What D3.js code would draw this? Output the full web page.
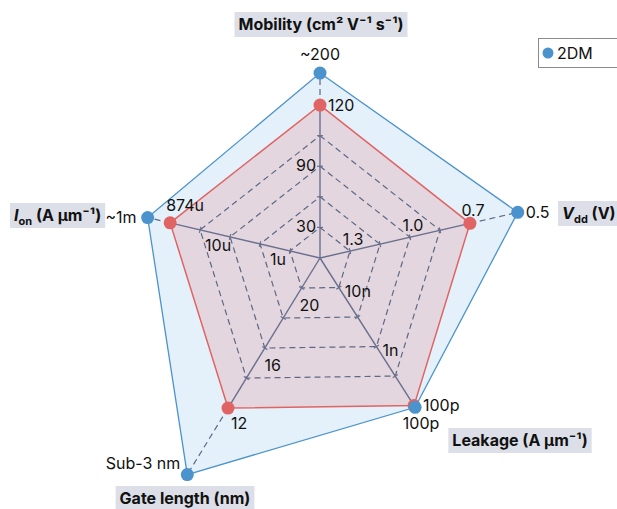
<!DOCTYPE html>
<html>
<head>
<meta charset="utf-8">
<script src="https://cdn.jsdelivr.net/npm/d3@7"></script>
<style>
  body { margin: 0; background: #fff; }
  text { font-family: Inter, "Liberation Sans", sans-serif; fill: #111; }
</style>
</head>
<body>
<div id="chart"></div>
<script>
// ---- data ----
const axes = ["Mobility", "Vdd", "Leakage", "Gate length", "Ion"];
// relative radial score (0-100) for each axis
const values2DM = [72.8, 79.9, 69.7, 100, 69.7];
const valuesSi = [60.2, 60.6, 68.9, 69.3, 60.6];
const labels2DM = ["~200", "0.5", "100p", "Sub-3 nm", "~1m"];
const labelsSi = ["120", "0.7", "100p", "12", "874u"];
const tickLabels = [["30", "90"], ["1.3", "1.0"], ["10n", "1n"], ["20", "16"], ["1u", "10u"]];
const tickRings = [[0.2, 0.6], [0.2, 0.6], [0.2, 0.6], [0.3, 0.7], [0.2, 0.6]];
const ringLevels = [0.2, 0.4, 0.6, 0.8];

// ---- layout ----
const width = 617, height = 509;
const cx = 320, cy = 258;
const angles = [-90, -13, 57.5, 121.5, 193.2];
const blue = "#4b93cc", red = "#e06464", axisCol = "#6a6f8e", gridCol = "#5d6886";
const fs = 16;

const svg = d3.select("#chart").append("svg")
    .attr("width", width)
    .attr("height", height);

const r = d3.scaleLinear().domain([0, 100]).range([0, 254]);

function pt(i, v) {
    let a = angles[i] * Math.PI / 180;
    return [cx + r(v) * Math.cos(a), cy + r(v) * Math.sin(a)];
}

const line = d3.line().curve(d3.curveLinearClosed);

// polygons
svg.append("path")
    .attr("d", line(values2DM.map((v, i) => pt(i, v))))
    .attr("fill", "#e4f1fa")
    .attr("stroke", blue)
    .attr("stroke-width", 1.3);

svg.append("path")
    .attr("d", line(valuesSi.map((v, i) => pt(i, v))))
    .attr("fill", "#e3d6de")
    .attr("stroke", red)
    .attr("stroke-width", 1.5);

// grid rings (scaled copies of the red polygon)
svg.selectAll(".ring")
    .data(ringLevels)
    .enter()
    .append("path")
    .attr("class", "ring")
    .attr("d", k => line(valuesSi.map((v, i) => pt(i, v * k))))
    .attr("fill", "none")
    .attr("stroke", gridCol)
    .attr("stroke-width", 1.2)
    .attr("stroke-dasharray", "6,4");

// axis lines + dashed extension
axes.forEach((a, i) => {
    let p0 = [cx, cy], p1 = pt(i, valuesSi[i]), p2 = pt(i, values2DM[i]);
    svg.append("line")
        .attr("x1", p0[0]).attr("y1", p0[1])
        .attr("x2", p1[0]).attr("y2", p1[1])
        .attr("stroke", axisCol)
        .attr("stroke-width", 1.4);
    svg.append("line")
        .attr("x1", p1[0]).attr("y1", p1[1])
        .attr("x2", p2[0]).attr("y2", p2[1])
        .attr("stroke", gridCol)
        .attr("stroke-width", 1.2)
        .attr("stroke-dasharray", "6,4");

    // small ticks where rings cross the axis
    let ang = angles[i] * Math.PI / 180;
    let nx = -Math.sin(ang), ny = Math.cos(ang);
    ringLevels.forEach(k => {
        let p = pt(i, valuesSi[i] * k);
        svg.append("line")
            .attr("x1", p[0] - nx * 3).attr("y1", p[1] - ny * 3)
            .attr("x2", p[0] + nx * 3).attr("y2", p[1] + ny * 3)
            .attr("stroke", axisCol)
            .attr("stroke-width", 1.2);
    });
});

// tick labels
const tickOffsets = [
    {dx: -14, dy: -1, anchor: "middle"},
    {dx: 3, dy: -12, anchor: "middle"},
    {dx: 6, dy: 3, anchor: "start"},
    {dx: 17, dy: 2, anchor: "middle"},
    {dx: -12, dy: 8, anchor: "middle"}
];
tickLabels.forEach((labs, i) => {
    labs.forEach((t, j) => {
        let p = pt(i, valuesSi[i] * tickRings[i][j]);
        let o = tickOffsets[i];
        svg.append("text")
            .attr("x", p[0] + o.dx)
            .attr("y", p[1] + o.dy)
            .attr("text-anchor", o.anchor)
            .attr("dominant-baseline", "central")
            .attr("font-size", fs)
            .text(t);
    });
});

// points
const siOffsets = [
    {dx: 8, dy: 0, anchor: "start"},
    {dx: 3, dy: -13, anchor: "middle"},
    {dx: 9, dy: -1, anchor: "start"},
    {dx: 11, dy: 15, anchor: "middle"},
    {dx: 15, dy: -18, anchor: "middle"}
];
const dmOffsets = [
    {dx: 0, dy: -19, anchor: "middle"},
    {dx: 8, dy: 0, anchor: "start"},
    {dx: 6, dy: 16, anchor: "middle"},
    {dx: -7, dy: -12, anchor: "end"},
    {dx: -11, dy: -1, anchor: "end"}
];

svg.selectAll(".si-dot")
    .data(valuesSi)
    .enter()
    .append("circle")
    .attr("class", "si-dot")
    .attr("cx", (d, i) => pt(i, d)[0])
    .attr("cy", (d, i) => pt(i, d)[1])
    .attr("r", 6.5)
    .attr("fill", red);

svg.selectAll(".dm-dot")
    .data(values2DM)
    .enter()
    .append("circle")
    .attr("class", "dm-dot")
    .attr("cx", (d, i) => pt(i, d)[0])
    .attr("cy", (d, i) => pt(i, d)[1])
    .attr("r", 6.5)
    .attr("fill", blue);

function valueLabels(vals, labs, offs) {
    vals.forEach((v, i) => {
        let p = pt(i, v), o = offs[i];
        svg.append("text")
            .attr("x", p[0] + o.dx)
            .attr("y", p[1] + o.dy)
            .attr("text-anchor", o.anchor)
            .attr("dominant-baseline", "central")
            .attr("font-size", fs)
            .text(labs[i]);
    });
}
valueLabels(valuesSi, labelsSi, siOffsets);
valueLabels(values2DM, labels2DM, dmOffsets);

// axis titles with grey boxes
function title(x, y, anchor, build) {
    let g = svg.append("g");
    let t = g.append("text")
        .attr("x", x).attr("y", y)
        .attr("text-anchor", anchor)
        .attr("font-size", 16)
        .attr("font-weight", "bold");
    build(t);
    let b = t.node().getBBox();
    g.insert("rect", "text")
        .attr("x", b.x - 4).attr("y", y - 18)
        .attr("width", b.width + 8).attr("height", 25)
        .attr("fill", "#dcdfe7");
}

title(321, 30, "middle", t => t.text("Mobility (cm² V⁻¹ s⁻¹)"));
title(14, 221, "start", t => {
    t.append("tspan").attr("font-style", "italic").text("I");
    t.append("tspan").attr("font-size", 11).attr("dy", 4).text("on");
    t.append("tspan").attr("dy", -4).text(" (A µm⁻¹)");
});
title(562, 219, "start", t => {
    t.append("tspan").attr("font-style", "italic").text("V");
    t.append("tspan").attr("font-size", 11).attr("dy", 4).text("dd");
    t.append("tspan").attr("dy", -4).text(" (V)");
});
title(520, 446, "middle", t => t.text("Leakage (A µm⁻¹)"));
title(185, 504, "middle", t => t.text("Gate length (nm)"));

// legend
const legend = svg.append("g");
legend.append("rect")
    .attr("x", 538.5).attr("y", 38.5)
    .attr("width", 90).attr("height", 29)
    .attr("fill", "#fff")
    .attr("stroke", "#8a8a8a");
legend.append("circle")
    .attr("cx", 548).attr("cy", 53)
    .attr("r", 5.5)
    .attr("fill", blue);
legend.append("text")
    .attr("x", 557).attr("y", 53)
    .attr("dominant-baseline", "central")
    .attr("font-size", fs)
    .text("2DM");
</script>
</body>
</html>
